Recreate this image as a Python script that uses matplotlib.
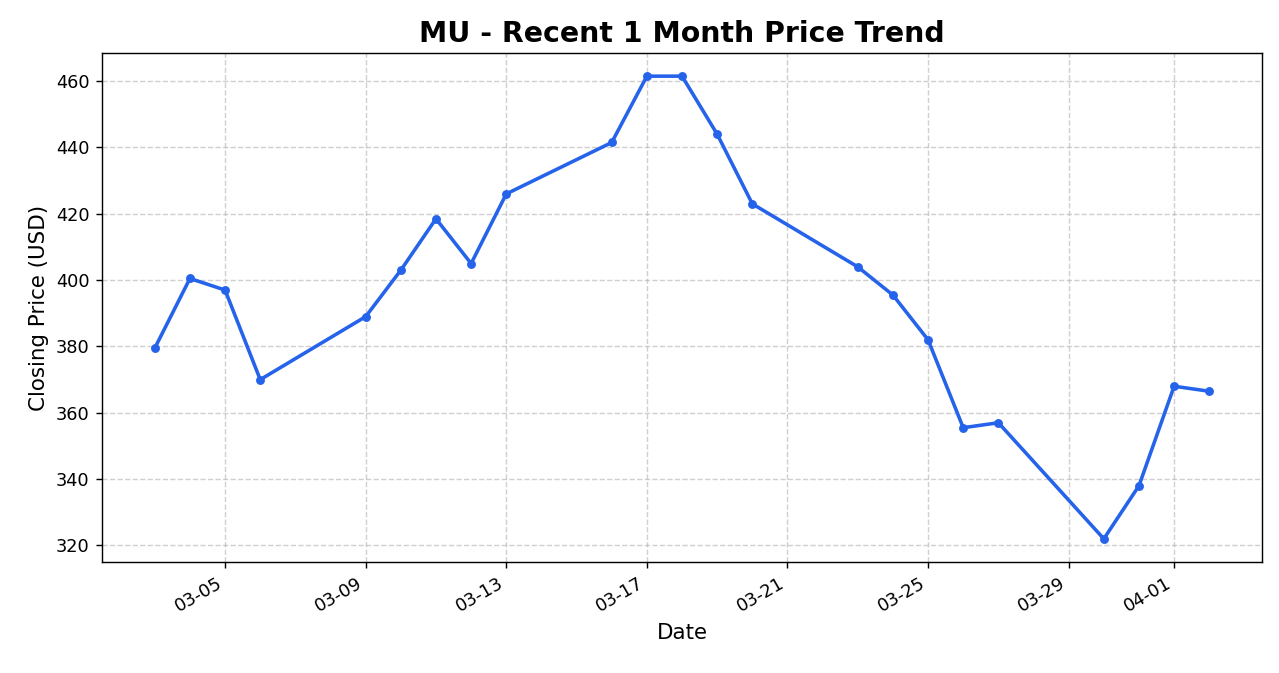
import matplotlib
matplotlib.use("Agg")
import matplotlib.pyplot as plt
import matplotlib.dates as mdates
import pandas as pd

dates = ["2026-03-03","2026-03-04","2026-03-05","2026-03-06","2026-03-09","2026-03-10",
         "2026-03-11","2026-03-12","2026-03-13","2026-03-16","2026-03-17","2026-03-18",
         "2026-03-19","2026-03-20","2026-03-23","2026-03-24","2026-03-25","2026-03-26",
         "2026-03-27","2026-03-30","2026-03-31","2026-04-01","2026-04-02"]
closes = [379.5, 400.5, 397, 370, 389, 403, 418.5, 405, 426, 441.5, 461.5, 461.5,
          444, 423, 404, 395.5, 382, 355.5, 357, 322, 338, 368, 366.5]

x = pd.to_datetime(dates)
fig, ax = plt.subplots(figsize=(10, 5.262), dpi=127.9)
ax.plot(x, closes, color="#2563eb", linewidth=2, marker="o", markersize=4)
ax.set_title("MU - Recent 1 Month Price Trend", fontsize=16, fontweight="bold")
ax.set_xlabel("Date", fontsize=12)
ax.set_ylabel("Closing Price (USD)", fontsize=12)
ax.grid(True, linestyle="--", alpha=0.6)
ax.xaxis.set_major_formatter(mdates.DateFormatter("%m-%d"))
fig.autofmt_xdate()
fig.subplots_adjust(left=0.0798, right=0.9867, top=0.9212, bottom=0.165)
fig.savefig("out.png")
